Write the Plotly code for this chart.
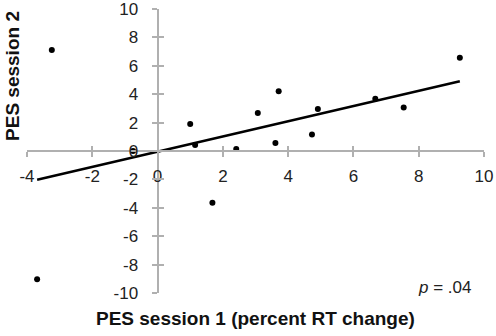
import numpy as np
import plotly.graph_objects as go

# Data
session1 = [-3.24, -0.75, 1.0, 1.15, 2.41, 3.07, 3.71, 3.61, 4.91, 4.73, 6.67, 7.54, 9.26, -3.69, 1.68]
session2 = [7.11, 0.0, 1.9, 0.42, 0.14, 2.68, 4.2, 0.56, 2.96, 1.17, 3.68, 3.07, 6.57, -9.04, -3.64]
x_ticks = [-4, -2, 0, 2, 4, 6, 8, 10]
x_tick_labels = ["-4", "-2", "0", "2", "4", "6", "8", "10"]
y_ticks = [-10, -8, -6, -4, -2, 0, 2, 4, 6, 8, 10]
y_tick_labels = ["-10", "-8", "-6", "-4", "-2", "0", "2", "4", "6", "8", "10"]
x_range = [-4, 10]
y_range = [-10, 10]

slope, intercept = np.polyfit(session1, session2, 1)
fit_x = [min(session1), max(session1)]
fit_y = [slope * v + intercept for v in fit_x]

axis_col = "#b0b0b0"
font_fam = "Liberation Sans, Arial, sans-serif"

fig = go.Figure()
fig.add_trace(go.Scatter(x=fit_x, y=fit_y, mode="lines",
                         line=dict(color="black", width=2.5), hoverinfo="skip"))
fig.add_trace(go.Scatter(x=session1, y=session2, mode="markers",
                         marker=dict(color="black", size=6)))
fig.add_trace(go.Scatter(x=[None], y=[None], xaxis="x2", yaxis="y2", mode="markers",
                         showlegend=False, hoverinfo="skip"))

common = dict(showgrid=False, zeroline=False, anchor="free",
              linecolor=axis_col, linewidth=2, tickcolor=axis_col, tickwidth=2,
              ticklen=5, tickfont=dict(size=17, color="#222", family=font_fam),
              automargin=False, fixedrange=True, ticklabeloverflow="allow")

ypos = (0 - x_range[0]) / (x_range[1] - x_range[0])

fig.update_layout(
    width=496, height=336,
    margin=dict(l=27, r=12, t=9, b=43),
    paper_bgcolor="white", plot_bgcolor="white",
    showlegend=False,
    font=dict(family=font_fam, color="#222"),
    xaxis=dict(range=x_range, tickvals=x_ticks, ticktext=x_tick_labels, ticks="outside",
               position=0.5, domain=[0, 1], ticklabelstandoff=5, showline=True, **common),
    yaxis=dict(range=y_range, tickvals=y_ticks, ticktext=y_tick_labels, ticks="outside",
               position=ypos, domain=[0, 1], ticklabelstandoff=10, showline=True, **common),
    xaxis2=dict(range=x_range, tickvals=x_ticks, ticks="inside", overlaying="x",
                position=0.5, showticklabels=False, showline=False, **common),
    yaxis2=dict(range=y_range, tickvals=y_ticks, ticks="inside", overlaying="y",
                position=ypos, showticklabels=False, showline=False, **common),
    annotations=[
        dict(text="<b>PES session 1 (percent RT change)</b>", xref="paper", yref="paper",
             x=0.50, y=-0.09, yanchor="middle", xanchor="center", showarrow=False,
             font=dict(size=19, color="#111")),
        dict(text="<b>PES session 2</b>", xref="paper", yref="paper",
             x=-0.033, y=0.764, xanchor="center", yanchor="middle", textangle=-90,
             showarrow=False, font=dict(size=19, color="#111")),
        dict(text="<i>p</i> = .04", xref="paper", yref="paper",
             x=0.914, y=0.021, xanchor="center", yanchor="middle", showarrow=False,
             font=dict(size=17, color="#222")),
    ],
)

fig.write_html("out.html", config={"displayModeBar": False},
               post_script="document.body.style.margin='0';")
